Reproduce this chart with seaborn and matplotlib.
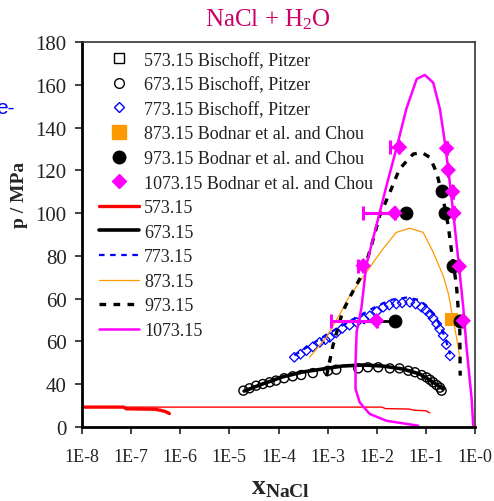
import numpy as np
import pandas as pd
import matplotlib
matplotlib.use("Agg")
import matplotlib.pyplot as plt
import seaborn as sns
from matplotlib.lines import Line2D

# ---- data (x = mole fraction NaCl, y = p / MPa in axis units) ----
red_thick_x = [1e-8, 7e-8, 8e-8, 3e-7, 4e-7, 5e-7, 6e-7]
red_thick_y = [9.3, 9.3, 8.5, 8.3, 7.8, 7.2, 6.3]
red_thin_x = [1e-8, 0.0126, 0.015, 0.045, 0.06, 0.1, 0.12]
red_thin_y = [9.3, 9.3, 8.6, 8.4, 7.8, 7.6, 6.6]

k673_x = [2.0e-5, 4.7e-5, 1.2e-4, 3.1e-4, 7.9e-4, 2.0e-3, 5.2e-3, 0.0133, 0.034, 0.075, 0.139, 0.222]
k673_y = [16.8, 20.1, 23.4, 25.7, 27.1, 28.5, 29.0, 28.5, 27.1, 24.8, 21.0, 17.8]

blue773_x = [2.1e-4, 1e-3, 4e-3, 0.01, 0.02, 0.04, 0.07, 0.1, 0.15, 0.2, 0.26, 0.31]
blue773_y = [33.5, 43.5, 51.5, 56.5, 59.5, 60.5, 59.5, 57.0, 52.0, 47.0, 40.0, 34.0]

or873_x = [4.3e-4, 9.5e-4, 1.8e-3, 2.6e-3, 6.1e-3, 0.0133, 0.025, 0.047, 0.088, 0.141, 0.225, 0.29, 0.36, 0.42, 0.49]
or873_y = [32.6, 42.1, 53.0, 60.0, 72.3, 83.2, 91.0, 92.9, 91.0, 81.7, 70.7, 62.0, 50.0, 42.0, 32.6]

k973_x = [9.5e-4, 1.28e-3, 2.0e-3, 2.8e-3, 5.3e-3, 7.8e-3, 0.0115, 0.0185, 0.029, 0.055,
          0.082, 0.12, 0.165, 0.225, 0.285, 0.335, 0.42, 0.49, 0.5]
k973_y = [23.7, 38.0, 53.6, 60.5, 72.3, 84.8, 98.8, 109.7, 120.6, 127.6,
          128.4, 126.1, 119.1, 106.6, 94.1, 81.7, 66.1, 45.0, 24.0]

m1073_x = [0.07, 0.025, 0.0158, 7.2e-3, 4.5e-3, 3.7e-3, 3.7e-3, 3.9e-3, 4.9e-3, 6.1e-3, 9.8e-3,
           0.0158, 0.025, 0.04, 0.065, 0.095, 0.141, 0.193, 0.244, 0.285, 0.36, 0.456, 0.577,
           0.677, 0.856, 0.92]
m1073_y = [0.6, 2.2, 2.9, 6.1, 11.5, 17.8, 30.0, 44.4, 56.0, 75.4, 94.1,
           112.8, 130.0, 148.7, 162.7, 164.6, 161.0, 148.7, 133.0, 120.6, 100.4, 78.5, 56.0,
           36.5, 13.0, 0.6]

# Bischoff, Pitzer points
sq573_x = []
sq573_y = []
ci673_x = [1.93e-5, 2.57e-5, 3.5e-5, 4.8e-5, 6.6e-5, 8.9e-5, 1.3e-4, 1.95e-4, 2.9e-4, 5.0e-4,
           1.02e-3, 1.5e-3, 4.2e-3, 6.6e-3, 0.0107, 0.0185, 0.029, 0.044, 0.060, 0.082,
           0.103, 0.121, 0.141, 0.166, 0.193, 0.209]
ci673_y = [17.0, 18.1, 19.3, 20.1, 20.9, 21.7, 22.8, 23.7, 24.3, 25.2,
           26.3, 26.8, 27.4, 27.9, 27.9, 27.4, 27.4, 26.3, 25.6, 24.3,
           23.2, 22.1, 20.9, 19.6, 18.4, 17.0]
di773_x = [2.1e-4, 2.8e-4, 3.7e-4, 5.0e-4, 6.9e-4, 9e-4, 1.1e-3, 1.5e-3, 2.0e-3, 2.8e-3,
           3.9e-3, 5.5e-3, 7.2e-3, 0.010, 0.0135, 0.018, 0.025, 0.033, 0.047, 0.062,
           0.082, 0.10, 0.121, 0.14, 0.166, 0.19, 0.225, 0.26, 0.31]
di773_y = [32.6, 34.0, 35.7, 37.5, 39.6, 40.8, 41.9, 44.0, 46.1, 47.6,
           48.9, 50.5, 52.0, 54.0, 56.0, 57.0, 57.5, 58.0, 58.3, 57.5,
           56.0, 54.6, 52.8, 50.8, 48.2, 45.8, 42.7, 38.5, 33.3]

# Bodnar et al. and Chou points
sq873_x = [0.335]
sq873_y = [50.2]
bc973_x = [0.0233, 0.040, 0.209, 0.244, 0.36, 0.49]
bc973_y = [49.7, 100.0, 110.5, 100.0, 75.4, 49.7]
bc973_xlo = [0.0099, 0.0233, 0.209, 0.244, 0.36, 0.49]   # left end of the x error bar
md1073_x = [0.0099, 5.3e-3, 0.0233, 0.029, 0.264, 0.285, 0.35, 0.373, 0.48, 0.577]
md1073_y = [49.7, 75.4, 100.0, 130.8, 130.3, 120.1, 110.0, 100.0, 75.1, 49.7]
md1073_xlo = [1.17e-3, 4.1e-3, 5.3e-3, 0.0185, 0.264, 0.285, 0.35, 0.373, 0.48, 0.577]

xtick_labels = ["1E-8", "1E-7", "1E-6", "1E-5", "1E-4", "1E-3", "1E-2", "1E-1", "1E-0"]
ytick_labels = ["0", "40", "60", "60", "80", "100", "120", "140", "160", "180"]

sns.set_style("white")
plt.rcParams["font.family"] = ["Liberation Serif", "DejaVu Serif"]
plt.rcParams["mathtext.fontset"] = "custom"
plt.rcParams["mathtext.rm"] = "Liberation Serif"
plt.rcParams["mathtext.it"] = "Liberation Serif:italic"
plt.rcParams["mathtext.bf"] = "Liberation Serif:bold"

fig = plt.figure(figsize=(4.94, 5.02), dpi=100)
ax = fig.add_axes([82 / 494, 74 / 502, 393 / 494, 385 / 502])
ax.set_xscale("log")


def curve(x, y, **kw):
    df = pd.DataFrame({"x": x, "y": y})
    sns.lineplot(data=df, x="x", y="y", sort=False, estimator=None, ax=ax, legend=False, **kw)


curve(red_thin_x, red_thin_y, color="red", lw=1.0)
curve(red_thick_x, red_thick_y, color="red", lw=2.4)
curve(k673_x, k673_y, color="black", lw=2.6)
curve(blue773_x, blue773_y, color="blue", lw=1.6, dashes=(2.5, 2.5))
curve(or873_x, or873_y, color="#FF9900", lw=0.9)
curve(k973_x, k973_y, color="black", lw=2.4, dashes=(2, 2.2))
curve(m1073_x, m1073_y, color="#FF00FF", lw=1.8)

sns.scatterplot(x=ci673_x, y=ci673_y, marker="o", s=42, facecolor="none",
                edgecolor="black", linewidth=1.0, ax=ax, legend=False)
sns.scatterplot(x=di773_x, y=di773_y, marker="D", s=24, facecolor="none",
                edgecolor="blue", linewidth=0.9, ax=ax, legend=False)
if sq573_x:
    sns.scatterplot(x=sq573_x, y=sq573_y, marker="s", s=40, facecolor="none",
                    edgecolor="black", ax=ax, legend=False)

bc_lo = np.array(bc973_x) - np.array(bc973_xlo)
ax.errorbar(bc973_x, bc973_y, xerr=[bc_lo, np.zeros_like(bc_lo)], fmt="none",
            ecolor="black", elinewidth=2, capsize=0)
md_lo = np.array(md1073_x) - np.array(md1073_xlo)
ax.errorbar(md1073_x, md1073_y, xerr=[md_lo, np.zeros_like(md_lo)], fmt="none",
            ecolor="#FF00FF", elinewidth=2.2, capsize=5, capthick=2.2)

sns.scatterplot(x=sq873_x, y=sq873_y, marker="s", s=85, color="#FF9900",
                edgecolor="none", ax=ax, legend=False, zorder=4)
sns.scatterplot(x=bc973_x, y=bc973_y, marker="o", s=85, color="black",
                edgecolor="black", ax=ax, legend=False, zorder=5)
sns.scatterplot(x=md1073_x, y=md1073_y, marker="D", s=62, color="#FF00FF",
                edgecolor="none", ax=ax, legend=False, zorder=6)

ax.set_xlim(1e-8, 1)
ax.set_ylim(0, 180)
ax.set_xticks([10.0 ** e for e in range(-8, 1)])
ax.set_xticklabels(xtick_labels)
ax.xaxis.set_minor_locator(matplotlib.ticker.NullLocator())
ax.set_yticks(range(0, 181, 20))
ax.set_yticklabels(ytick_labels)
ax.tick_params(axis="x", labelsize=13, length=5, width=1.2, direction="out",
               bottom=True, pad=10, colors="#222222")
ax.tick_params(axis="y", labelsize=15, length=5, width=1.2, direction="out",
               left=True, pad=6, colors="#222222")
ax.set_xlabel("")
ax.set_ylabel("")
for side in ["left", "bottom"]:
    ax.spines[side].set_linewidth(2)
    ax.spines[side].set_color("black")
for side in ["top", "right"]:
    ax.spines[side].set_linewidth(1.2)
    ax.spines[side].set_color("#333333")

handles = [
    Line2D([], [], ls="none", marker="s", ms=7, mfc="none", mec="black", mew=1),
    Line2D([], [], ls="none", marker="o", ms=7, mfc="none", mec="black", mew=1),
    Line2D([], [], ls="none", marker="D", ms=5, mfc="none", mec="blue", mew=1),
    Line2D([], [], ls="none", marker="s", ms=10, mfc="#FF9900", mec="#FF9900"),
    Line2D([], [], ls="none", marker="o", ms=9, mfc="black", mec="black"),
    Line2D([], [], ls="none", marker="D", ms=7, mfc="#FF00FF", mec="#FF00FF"),
    Line2D([], [], color="red", lw=2.4),
    Line2D([], [], color="black", lw=2.6),
    Line2D([], [], color="blue", lw=1.6, dashes=(2.5, 2.5)),
    Line2D([], [], color="#FF9900", lw=0.9),
    Line2D([], [], color="black", lw=2.4, dashes=(2, 2.2)),
    Line2D([], [], color="#FF00FF", lw=1.8),
]
labels = [
    "573.15 Bischoff, Pitzer", "673.15 Bischoff, Pitzer", "773.15 Bischoff, Pitzer",
    "873.15 Bodnar et al. and Chou", "973.15 Bodnar et al. and Chou",
    "1073.15 Bodnar et al. and Chou",
    "573.15", "673.15", "773.15", "873.15", "973.15", "1073.15",
]
leg = ax.legend(handles, labels, loc="upper left", bbox_to_anchor=(0.043, 0.975),
                frameon=False, fontsize=13, handlelength=2.2, handletextpad=0.3,
                labelspacing=0.42, borderpad=0, borderaxespad=0)
for t in leg.get_texts():
    t.set_color("#222222")

fig.text(268 / 494, 1 - 20 / 502, "NaCl + H$_2$O", color="#CC0066", fontsize=18,
         ha="center", va="center")
fig.text(281 / 494, 1 - 488 / 502, r"$\mathbf{x}_{\mathbf{NaCl}}$", fontsize=20,
         ha="center", va="center")
fig.text(20 / 494, 1 - 195 / 502, "p / MPa", rotation=90, fontsize=14,
         fontweight="bold", ha="center", va="center")
fig.text(15 / 494, 1 - 108 / 502, "e-", color="blue", fontsize=15,
         family="Liberation Sans", ha="right", va="center")

fig.savefig("out.png", dpi=100)
